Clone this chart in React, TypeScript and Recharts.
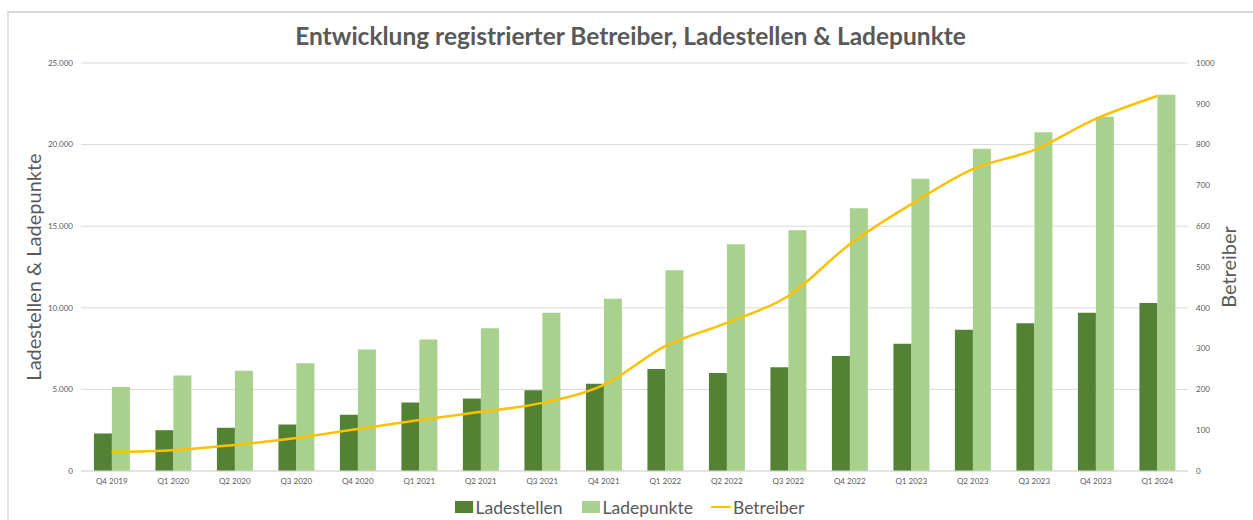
import React from 'react';
import {
  ComposedChart, Bar, Line, XAxis, YAxis, CartesianGrid, Legend,
} from 'recharts';

const quarters = [
  'Q4 2019', 'Q1 2020', 'Q2 2020', 'Q3 2020', 'Q4 2020', 'Q1 2021', 'Q2 2021', 'Q3 2021', 'Q4 2021',
  'Q1 2022', 'Q2 2022', 'Q3 2022', 'Q4 2022', 'Q1 2023', 'Q2 2023', 'Q3 2023', 'Q4 2023', 'Q1 2024',
];
const ladestellen = [2300, 2500, 2650, 2850, 3450, 4200, 4450, 4950, 5350, 6250, 6000, 6350, 7050, 7800, 8650, 9050, 9700, 10300];
const ladepunkte = [5150, 5850, 6150, 6600, 7450, 8050, 8750, 9700, 10550, 12300, 13900, 14750, 16100, 17900, 19750, 20750, 21700, 23050];
const betreiber = [47, 51, 64, 81, 103, 125, 145, 167, 211, 306, 363, 429, 556, 654, 740, 787, 863, 919];
const leftTicks = [0, 5000, 10000, 15000, 20000, 25000];
const rightTicks = [0, 100, 200, 300, 400, 500, 600, 700, 800, 900, 1000];

const data = quarters.map((q, i) => ({
  q,
  Ladestellen: ladestellen[i],
  Ladepunkte: ladepunkte[i],
  Betreiber: betreiber[i],
}));

const TXT = '#595959';
const FONT = 'Lato, "Open Sans", sans-serif';
const DARK = '#548235';
const LIGHT = '#A9D18E';
const GOLD = '#FFC000';

const fmt = (v: number) => (v === 0 ? '0' : v.toLocaleString('de-DE'));

const LegendContent = () => (
  <div style={{ display: 'flex', justifyContent: 'center', alignItems: 'center', height: 24, fontFamily: FONT, fontSize: 17.5, color: TXT, gap: 0, paddingLeft: 6 }}>
    <span style={{ display: 'inline-block', width: 18, height: 12, background: DARK, marginRight: 3 }} />
    <span style={{ marginRight: 19 }}>Ladestellen</span>
    <span style={{ display: 'inline-block', width: 18, height: 12, background: LIGHT, marginRight: 3 }} />
    <span style={{ marginRight: 18 }}>Ladepunkte</span>
    <span style={{ display: 'inline-block', width: 20, height: 2.5, background: GOLD, marginRight: 2 }} />
    <span>Betreiber</span>
  </div>
);

export default function App() {
  return (
    <div style={{ position: 'fixed', left: 0, top: 0, width: 1253, height: 520, background: '#fff', fontFamily: FONT }}>
      <div style={{ position: 'absolute', left: 7, top: 11, width: 1246, height: 509, borderTop: '2px solid #d9d9d9', borderLeft: '2px solid #e3e3e3' }} />
      <div style={{ position: 'absolute', left: 8, width: 1245, top: 21, textAlign: 'center', fontFamily: FONT, fontWeight: 700, fontSize: 24.5, color: TXT }}>
        Entwicklung registrierter Betreiber, Ladestellen &amp; Ladepunkte
      </div>
      <div style={{ position: 'absolute', left: 0, top: 0 }}>
        <ComposedChart
          width={1253}
          height={520}
          data={data}
          margin={{ top: 63, right: 0, bottom: 1, left: 0 }}
          barGap={0}
          barCategoryGap="21%"
        >
          <CartesianGrid yAxisId="left" vertical={false} stroke="#d9d9d9" strokeWidth={1} />
          <XAxis
            dataKey="q"
            height={24}
            tickLine={false}
            axisLine={{ stroke: '#d9d9d9' }}
            tick={{ fontSize: 8, fill: TXT, fontFamily: FONT }}
            tickMargin={1}
            interval={0}
          />
          <YAxis
            yAxisId="left"
            width={81}
            domain={[0, 25000]}
            ticks={leftTicks}
            tickFormatter={fmt}
            tickLine={false}
            axisLine={false}
            tick={{ fontSize: 8, fill: TXT, fontFamily: FONT }}
            tickMargin={2}
            label={{ value: 'Ladestellen & Ladepunkte', angle: -90, position: 'insideLeft', offset: 34, style: { textAnchor: 'middle', fontSize: 20, fill: TXT, fontFamily: FONT } }}
          />
          <YAxis
            yAxisId="right"
            orientation="right"
            width={65}
            domain={[0, 1000]}
            ticks={rightTicks}
            tickLine={false}
            axisLine={false}
            tick={{ fontSize: 8, fill: TXT, fontFamily: FONT, textAnchor: 'start' }}
            tickMargin={2}
            label={{ value: 'Betreiber', angle: -90, position: 'insideRight', offset: 24, style: { textAnchor: 'middle', fontSize: 20, fill: TXT, fontFamily: FONT } }}
          />
          <Bar yAxisId="left" dataKey="Ladestellen" fill={DARK} isAnimationActive={false} />
          <Bar yAxisId="left" dataKey="Ladepunkte" fill={LIGHT} isAnimationActive={false} />
          <Line yAxisId="right" type="monotone" dataKey="Betreiber" stroke={GOLD} strokeWidth={2.5} dot={false} activeDot={false} isAnimationActive={false} />
          <Legend verticalAlign="bottom" content={<LegendContent />} />
        </ComposedChart>
      </div>
    </div>
  );
}
